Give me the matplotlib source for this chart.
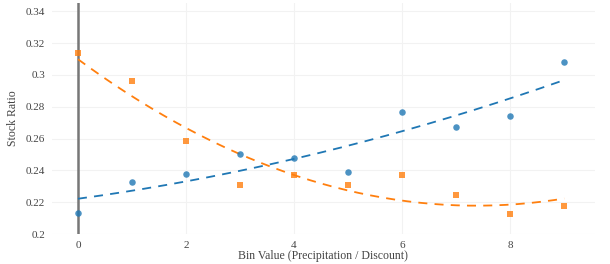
import numpy as np
import matplotlib
matplotlib.use("Agg")
import matplotlib.pyplot as plt

bins = [0, 1, 2, 3, 4, 5, 6, 7, 8, 9]
precip_ratio = [0.213, 0.2325, 0.2375, 0.250, 0.2475, 0.239, 0.277, 0.2675, 0.274, 0.308]
discount_ratio = [0.3135, 0.296, 0.2585, 0.2305, 0.237, 0.2305, 0.237, 0.2245, 0.2125, 0.2175]
yticks = [0.2, 0.22, 0.24, 0.26, 0.28, 0.3, 0.32, 0.34]
ytick_labels = ["0.2", "0.22", "0.24", "0.26", "0.28", "0.3", "0.32", "0.34"]
xticks = [0, 2, 4, 6, 8]

plt.rcParams['font.family'] = ['Liberation Serif', 'DejaVu Serif']

fig = plt.figure(figsize=(6.10, 2.64), dpi=100)
ax = fig.add_axes([52/610, 1 - 234/264, (595-52)/610, (234-3)/264])

blue = "#1f77b4"
orange = "#ff7f0e"
x = np.array(bins, dtype=float)
xs = np.linspace(0, 9, 200)

for ys, c, m in [(precip_ratio, blue, 'o'), (discount_ratio, orange, 's')]:
    ax.scatter(bins, ys, s=22, marker=m, color=c, alpha=0.8, linewidths=0, zorder=3)
    p = np.polyfit(x, ys, 2)
    ax.plot(xs, np.polyval(p, xs), color=c, lw=1.3, dashes=(5, 4), zorder=2)

ax.set_xlim(-0.48, 9.57)
ax.set_ylim(0.2, 0.3452)
ax.axvline(0, color="#777777", lw=1.8, zorder=1)
ax.set_xticks(xticks)
ax.set_xticklabels([str(v) for v in xticks])
ax.set_yticks(yticks)
ax.set_yticklabels(ytick_labels)
ax.grid(True, color="#f2f2f2", lw=0.8)
ax.set_axisbelow(True)
for s in ax.spines.values():
    s.set_visible(False)
ax.tick_params(length=0, labelsize=8, colors="#444444", pad=5)
fig.text(323/610, 1 - 256/264, "Bin Value (Precipitation / Discount)", fontsize=8.5,
         color="#444444", ha="center", va="center")
fig.text(13/610, 1 - 118/264, "Stock Ratio", fontsize=8.5, color="#444444",
         ha="center", va="center", rotation=90)

fig.savefig("out.png", dpi=100, facecolor="white")
